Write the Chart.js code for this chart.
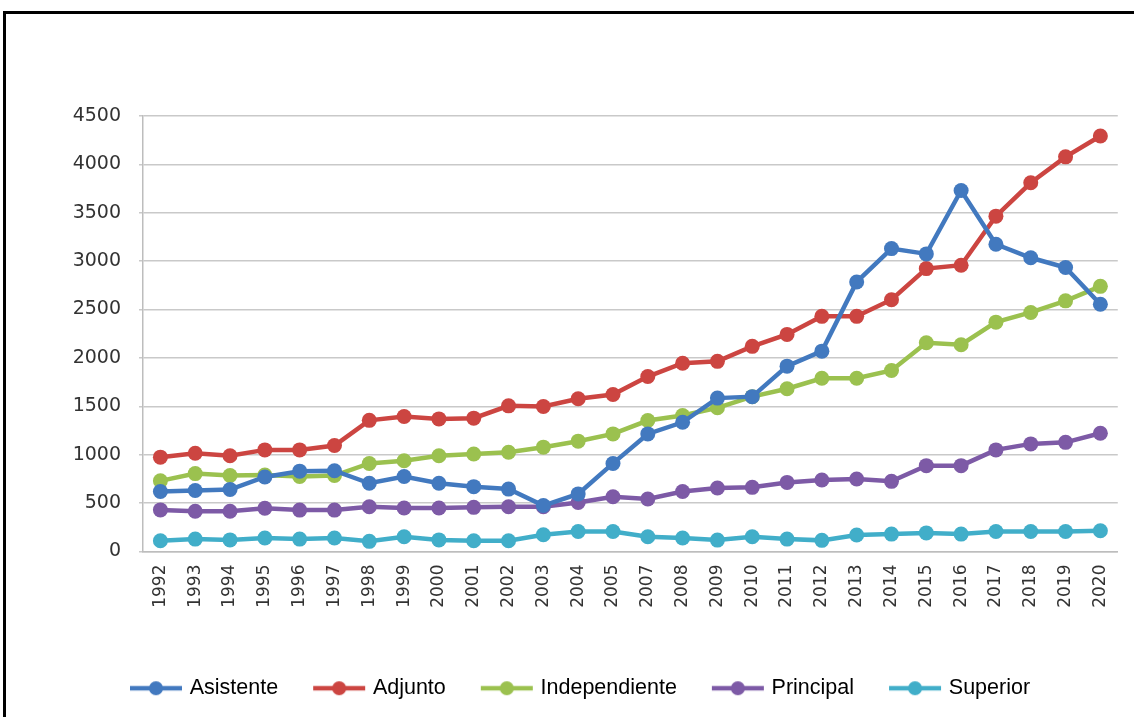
<!DOCTYPE html>
<html>
<head>
<meta charset="utf-8">
<script src="https://cdn.jsdelivr.net/npm/chart.js@4/dist/chart.umd.min.js"></script>
<style>
  html, body { margin: 0; padding: 0; background: #fff; }
  #wrap { position: relative; width: 1134px; height: 717px; overflow: hidden; }
  #frame { position: absolute; left: 3px; top: 11px; width: 1200px; height: 800px; border: 3px solid #000; box-sizing: border-box; }
  canvas { position: absolute; left: 0; top: 0; }
</style>
</head>
<body>
<div id="wrap">
  <div id="frame"></div>
  <canvas id="c" width="1134" height="717"></canvas>
</div>
<script>
const years = ['1992','1993','1994','1995','1996','1997','1998','1999','2000','2001','2002','2003','2004','2005',
               '2007','2008','2009','2010','2011','2012','2013','2014','2015','2016','2017','2018','2019','2020'];

const asistente = [620, 630, 640, 770, 830, 835, 705, 775, 705, 670, 645, 475, 595, 910,
                   1215, 1335, 1585, 1600, 1915, 2070, 2785, 3130, 3075, 3730, 3175, 3035, 2935, 2555];
const adjunto = [975, 1015, 990, 1050, 1050, 1095, 1355, 1395, 1370, 1378, 1505, 1498, 1578, 1622,
                 1808, 1945, 1965, 2120, 2243, 2430, 2430, 2602, 2923, 2958, 3465, 3810, 4078, 4293];
const independiente = [730, 805, 785, 790, 775, 785, 910, 938, 990, 1008, 1025, 1078, 1140, 1215,
                       1353, 1405, 1485, 1600, 1682, 1790, 1790, 1870, 2157, 2137, 2370, 2470, 2590, 2740];
const principal = [430, 416, 416, 447, 428, 428, 462, 449, 449, 456, 463, 463, 507, 566,
                   542, 620, 656, 663, 714, 739, 749, 725, 887, 887, 1050, 1112, 1128, 1222];
const superior = [111, 128, 120, 139, 128, 139, 105, 152, 120, 111, 111, 173, 207, 207,
                  152, 139, 118, 152, 128, 115, 170, 180, 192, 180, 207, 207, 207, 214];
const yTicks = [0, 500, 1000, 1500, 2000, 2500, 3000, 3500, 4000, 4500];
const yTickLabels = ['0', '500', '1000', '1500', '2000', '2500', '3000', '3500', '4000', '4500'];

const seriesNames = ['Asistente', 'Adjunto', 'Independiente', 'Principal', 'Superior'];
const seriesData = [asistente, adjunto, independiente, principal, superior];
const colors = ['#4279bf', '#cc4541', '#9bc14f', '#7d5aa6', '#41aec9'];

function legendIcon(color) {
  const cv = document.createElement('canvas');
  cv.width = 54; cv.height = 16;
  const g = cv.getContext('2d');
  g.strokeStyle = color; g.lineWidth = 4.5; g.lineCap = 'butt';
  g.beginPath(); g.moveTo(1, 8); g.lineTo(53, 8); g.stroke();
  g.fillStyle = color;
  g.beginPath(); g.arc(27, 8, 7, 0, Math.PI * 2); g.fill();
  return cv;
}
const icons = colors.map(legendIcon);

const datasets = seriesNames.map((name, i) => ({
  label: name,
  data: seriesData[i],
  borderColor: colors[i],
  backgroundColor: colors[i],
  pointBackgroundColor: colors[i],
  pointBorderColor: colors[i],
  pointBorderWidth: 0,
  pointRadius: 7.5,
  pointHoverRadius: 7.5,
  borderWidth: 4.5,
  tension: 0,
  clip: false
}));

new Chart(document.getElementById('c'), {
  type: 'line',
  data: { labels: years, datasets: datasets },
  options: {
    responsive: false,
    animation: false,
    events: [],
    layout: { padding: { top: 116, right: 13, left: 42, bottom: 8 } },
    plugins: {
      tooltip: { enabled: false },
      legend: {
        position: 'bottom',
        labels: {
          usePointStyle: true,
          pointStyleWidth: 46,
          boxHeight: 14,
          padding: 38,
          color: '#333',
          font: { family: "'Liberation Sans', sans-serif", size: 21.5 },
          generateLabels: (chart) => chart.data.datasets.map((ds, i) => ({
            text: ds.label,
            pointStyle: icons[i],
            fillStyle: colors[i],
            strokeStyle: colors[i],
            lineWidth: 0,
            datasetIndex: i,
            hidden: false
          }))
        }
      }
    },
    scales: {
      x: {
        offset: true,
        grid: { display: false, drawTicks: false, offset: true },
        border: { display: true, color: '#bdbdbd', width: 1.5 },
        ticks: {
          minRotation: 90, maxRotation: 90, autoSkip: false, padding: 13,
          color: '#333',
          font: { family: "'DejaVu Sans', sans-serif", size: 17 }
        },
        afterFit: (s) => { s.height = 88; }
      },
      y: {
        min: 0, max: 4500,
        afterBuildTicks: (s) => { s.ticks = yTicks.map(v => ({ value: v })); },
        grid: { color: '#c9c9c9', lineWidth: 1.5, tickLength: 4 },
        border: { display: true, color: '#bdbdbd', width: 1.5 },
        ticks: {
          padding: 18,
          color: '#333',
          font: { family: "'DejaVu Sans', sans-serif", size: 19 },
          callback: (v) => yTickLabels[yTicks.indexOf(v)]
        },
        afterFit: (s) => { s.width = 101; }
      }
    }
  }
});
</script>
</body>
</html>
